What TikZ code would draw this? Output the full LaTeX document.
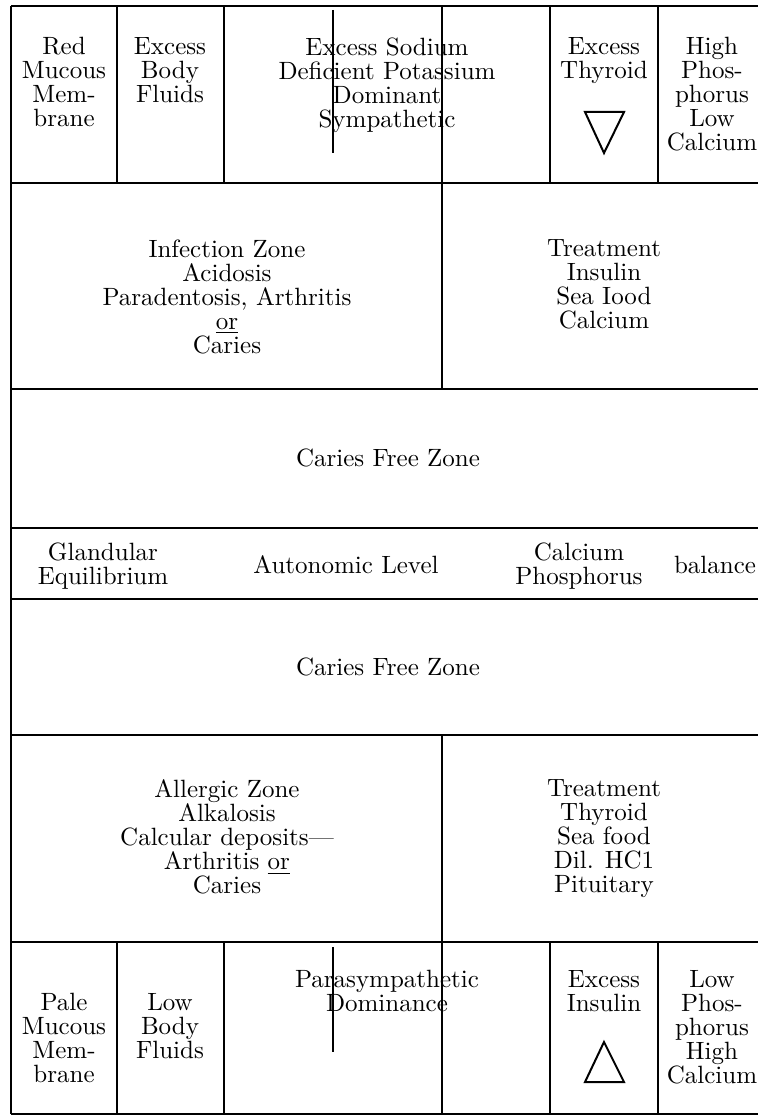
\documentclass[tikz,border=0pt]{standalone}
\begin{document}
\begin{tikzpicture}
    [
        x=0.4pt, y=-0.4pt,
        rule/.style={line width=0.6pt},
        cell node/.style={align=center, anchor=north, inner sep=0pt, font=\fontsize{10}{9.6}\selectfont},
        zone node/.style={cell node, anchor=center}
    ]
    \useasboundingbox (0, 0) rectangle (758, 1118);

    \draw [line width=0.9pt] (11, 6) -- (11, 1114);
    \foreach \y in {6, 183, 389, 528, 599, 735, 942, 1114}
        \draw [rule] (11, \y) -- (758, \y);
    \foreach \x in {117, 224, 442, 550, 658}
        \draw [rule] (\x, 6) -- (\x, 183);
    \foreach \x in {117, 224, 442, 550, 658}
        \draw [rule] (\x, 942) -- (\x, 1114);
    \draw [rule] (333, 10) -- (333, 153);
    \draw [rule] (333, 947) -- (333, 1052);
    \draw [rule] (442, 183) -- (442, 389);
    \draw [rule] (442, 735) -- (442, 942);

    \node [cell node] (redmucous) at (64, 37) {Red\\Mucous\\Mem-\\brane};
    \node [cell node] (excessfluids) at (170, 37) {Excess\\Body\\Fluids};
    \node [cell node] (sympathetic) at (387, 37) {Excess Sodium\\Deficient Potassium\\Dominant\\Sympathetic};
    \node [cell node] (thyroid) at (604, 37) {Excess\\Thyroid};
    \node [cell node] (highphos) at (712, 37) {High\\Phos-\\phorus\\Low\\Calcium};
    \draw [line width=0.8pt, line join=miter] (585, 112) -- (624, 112) -- (604, 153) -- cycle;

    \node [cell node] (infection) at (227, 239) {Infection Zone\\Acidosis\\Paradentosis, Arthritis\\\underline{or}\\Caries};
    \node [cell node] (treatinsulin) at (604, 239) {Treatment\\Insulin\\Sea Iood\\Calcium};

    \node [zone node] (freeupper) at (388, 458) {Caries Free Zone};

    \node [zone node] (glandular) at (103, 566) {Glandular\\Equilibrium};
    \node [zone node] (autonomic) at (346, 565) {Autonomic Level};
    \node [zone node] (calphos) at (579, 566) {Calcium\\Phosphorus};
    \node [zone node] (balance) at (715, 565) {balance};

    \node [zone node] (freelower) at (388, 667) {Caries Free Zone};

    \node [cell node] (allergic) at (227, 779) {Allergic Zone\\Alkalosis\\Calcular deposits---\\Arthritis \underline{or}\\Caries};
    \node [cell node] (treatthyroid) at (604, 779) {Treatment\\Thyroid\\Sea food\\Dil. HC1\\Pituitary};

    \node [cell node] (palemucous) at (64, 993) {Pale\\Mucous\\Mem-\\brane};
    \node [cell node] (lowfluids) at (170, 993) {Low\\Body\\Fluids};
    \node [cell node] (parasymp) at (387, 970) {Parasympathetic\\Dominance};
    \node [cell node] (insulin) at (604, 970) {Excess\\Insulin};
    \node [cell node] (lowphos) at (712, 970) {Low\\Phos-\\phorus\\High\\Calcium};
    \draw [line width=0.8pt, line join=miter] (585, 1082) -- (624, 1082) -- (604, 1042) -- cycle;
\end{tikzpicture}
\end{document}
